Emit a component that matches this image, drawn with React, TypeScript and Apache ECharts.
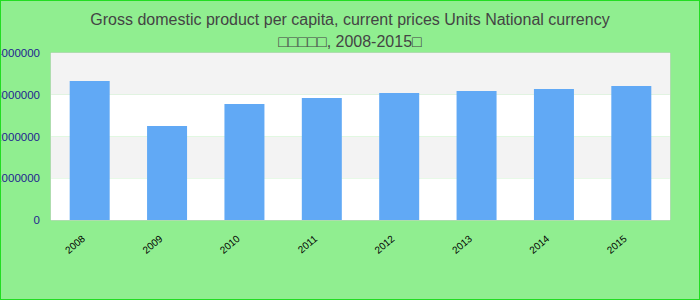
import React, { useEffect, useRef } from "react";
import * as echarts from "echarts";

const categories = ["2008", "2009", "2010", "2011", "2012", "2013", "2014", "2015"];
const values = [3330000, 2250000, 2780000, 2920000, 3040000, 3090000, 3140000, 3210000];
const yMin = 0;
const yMax = 4000000;
const yInterval = 1000000;
const titleText =
  "Gross domestic product per capita, current prices Units National currency\n\u25A1\u25A1\u25A1\u25A1\u25A1, 2008-2015\u25A1";

export default function App() {
  const ref = useRef<HTMLDivElement>(null);
  useEffect(() => {
    document.body.style.margin = "0";
    const chart = echarts.init(ref.current!, null, { renderer: "svg" });
    chart.setOption({
      animation: false,
      backgroundColor: "#90ee90",
      title: {
        text: titleText,
        left: "center",
        top: 2,
        textStyle: {
          fontSize: 16,
          lineHeight: 22,
          fontWeight: "normal",
          color: "#444",
          fontFamily: "Liberation Sans, Arial, sans-serif",
        },
      },
      grid: {
        left: 50,
        right: 29,
        top: 52,
        bottom: 79,
        containLabel: false,
        outerBoundsMode: "none",
        show: true,
        borderColor: "#cccccc",
        borderWidth: 1,
        backgroundColor: "transparent",
      },
      xAxis: {
        type: "category",
        data: categories,
        axisLine: { show: false },
        axisTick: { show: false },
        axisLabel: {
          rotate: 40,
          margin: 12,
          padding: [0, 8, 0, 0],
          fontSize: 10,
          color: "#000",
          fontFamily: "Liberation Sans, Arial, sans-serif",
        },
      },
      yAxis: {
        type: "value",
        min: yMin,
        max: yMax,
        interval: yInterval,
        axisLine: { show: false },
        axisTick: { show: false },
        splitLine: { show: false },
        splitArea: { show: true, areaStyle: { color: ["#ffffff", "#f3f3f3"] } },
        axisLabel: {
          margin: 11,
          fontSize: 11.5,
          color: "#1f1f8f",
          fontFamily: "Liberation Sans, Arial, sans-serif",
          formatter: (v: number) => String(v),
        },
      },
      series: [
        {
          type: "bar",
          data: values,
          barWidth: 40,
          itemStyle: { color: "#61a9f5" },
        },
      ],
    });
    return () => chart.dispose();
  }, []);
  return (
    <div
      ref={ref}
      style={{
        width: 700,
        height: 300,
        boxSizing: "border-box",
        border: "1px solid #22dd22",
      }}
    />
  );
}
